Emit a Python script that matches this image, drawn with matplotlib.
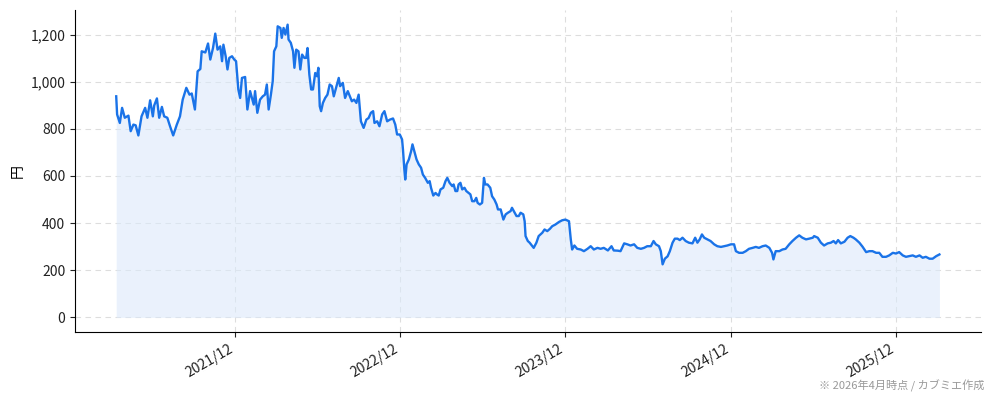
import matplotlib
matplotlib.use("Agg")
import matplotlib.pyplot as plt
import matplotlib.dates as mdates
import matplotlib.ticker as mticker
import pandas as pd

plt.rcParams['font.family'] = ['Noto Sans CJK JP', 'DejaVu Sans']

dates = [
    "2021-03-13", "2021-03-15", "2021-03-21", "2021-03-26", "2021-04-01", "2021-04-09", "2021-04-14", "2021-04-20",
    "2021-04-25", "2021-05-01", "2021-05-08", "2021-05-16", "2021-05-21", "2021-05-27", "2021-06-02", "2021-06-05",
    "2021-06-11", "2021-06-16", "2021-06-22", "2021-06-27", "2021-07-04", "2021-07-10", "2021-07-17", "2021-07-25",
    "2021-08-01", "2021-08-07", "2021-08-15", "2021-08-22", "2021-08-27", "2021-09-03", "2021-09-09", "2021-09-15",
    "2021-09-18", "2021-09-26", "2021-10-02", "2021-10-07", "2021-10-13", "2021-10-18", "2021-10-23", "2021-10-29",
    "2021-11-02", "2021-11-05", "2021-11-10", "2021-11-14", "2021-11-18", "2021-11-24", "2021-11-29", "2021-12-03",
    "2021-12-08", "2021-12-12", "2021-12-16", "2021-12-23", "2021-12-28", "2022-01-03",
    "2022-01-11", "2022-01-14", "2022-01-19", "2022-01-25", "2022-01-31", "2022-02-05", "2022-02-09", "2022-02-13",
    "2022-02-18", "2022-02-22", "2022-02-25", "2022-03-02", "2022-03-05", "2022-03-11", "2022-03-14", "2022-03-18",
    "2022-03-22", "2022-03-27", "2022-03-29", "2022-04-03", "2022-04-08", "2022-04-11", "2022-04-15", "2022-04-20",
    "2022-04-24", "2022-04-28", "2022-05-03", "2022-05-07", "2022-05-10", "2022-05-14", "2022-05-18", "2022-05-22",
    "2022-05-27", "2022-05-31", "2022-06-03", "2022-06-06", "2022-06-09", "2022-06-13", "2022-06-18", "2022-06-23",
    "2022-06-28", "2022-07-03", "2022-07-07", "2022-07-13", "2022-07-18", "2022-07-21", "2022-07-27", "2022-08-01",
    "2022-08-07", "2022-08-13", "2022-08-16", "2022-08-21", "2022-08-26", "2022-08-31", "2022-09-05", "2022-09-11",
    "2022-09-17", "2022-09-22", "2022-09-27", "2022-10-02", "2022-10-05", "2022-10-11", "2022-10-16", "2022-10-22",
    "2022-10-27", "2022-11-02", "2022-11-08",
    "2022-11-15", "2022-11-20", "2022-11-24", "2022-11-30", "2022-12-05", "2022-12-07", "2022-12-10", "2022-12-12",
    "2022-12-15", "2022-12-20", "2022-12-25", "2022-12-28", "2023-01-01", "2023-01-06", "2023-01-11", "2023-01-16",
    "2023-01-20", "2023-01-25", "2023-01-31", "2023-02-04", "2023-02-07", "2023-02-12", "2023-02-17", "2023-02-20",
    "2023-02-24", "2023-02-28", "2023-03-06", "2023-03-11", "2023-03-15", "2023-03-20", "2023-03-26", "2023-03-29",
    "2023-04-02", "2023-04-06", "2023-04-09", "2023-04-13", "2023-04-17", "2023-04-22", "2023-04-26", "2023-05-01",
    "2023-05-05", "2023-05-09", "2023-05-14", "2023-05-18", "2023-05-21", "2023-05-26", "2023-05-31", "2023-06-04",
    "2023-06-07", "2023-06-12", "2023-06-18", "2023-06-22", "2023-06-27", "2023-07-02", "2023-07-05", "2023-07-11",
    "2023-07-17", "2023-07-22", "2023-07-27", "2023-08-02", "2023-08-05", "2023-08-09", "2023-08-15", "2023-08-20",
    "2023-08-24", "2023-08-30", "2023-09-02", "2023-09-04", "2023-09-09", "2023-09-13", "2023-09-19", "2023-09-22",
    "2023-09-28", "2023-10-03",
    "2023-10-11", "2023-10-16", "2023-10-22", "2023-10-28", "2023-11-02", "2023-11-09", "2023-11-17", "2023-11-24",
    "2023-12-01", "2023-12-09", "2023-12-13", "2023-12-16", "2023-12-21", "2023-12-27", "2024-01-04", "2024-01-11",
    "2024-01-19", "2024-01-26", "2024-02-02", "2024-02-10", "2024-02-17", "2024-02-24", "2024-03-04", "2024-03-12",
    "2024-03-17", "2024-03-26", "2024-04-01", "2024-04-09", "2024-04-16", "2024-04-23", "2024-05-01", "2024-05-08",
    "2024-05-16", "2024-05-23", "2024-05-30", "2024-06-07", "2024-06-13", "2024-06-18", "2024-06-25", "2024-06-29",
    "2024-07-03", "2024-07-08", "2024-07-14", "2024-07-19", "2024-07-25", "2024-07-30", "2024-08-05", "2024-08-10",
    "2024-08-16", "2024-08-23", "2024-08-30", "2024-09-07", "2024-09-13", "2024-09-18", "2024-09-23", "2024-09-28",
    "2024-10-03", "2024-10-10", "2024-10-17", "2024-10-25", "2024-11-01", "2024-11-09", "2024-11-16", "2024-11-23",
    "2024-12-01", "2024-12-08", "2024-12-12", "2024-12-19", "2024-12-27", "2025-01-03", "2025-01-10", "2025-01-18",
    "2025-01-25", "2025-02-01", "2025-02-09", "2025-02-16", "2025-02-24", "2025-03-02", "2025-03-05", "2025-03-10",
    "2025-03-18", "2025-03-25", "2025-04-01", "2025-04-09", "2025-04-16", "2025-04-24", "2025-05-01", "2025-05-08",
    "2025-05-16", "2025-05-23", "2025-05-31",
    "2025-06-03", "2025-06-11", "2025-06-18", "2025-06-25", "2025-07-03", "2025-07-10", "2025-07-16", "2025-07-21",
    "2025-07-26", "2025-08-01", "2025-08-09", "2025-08-16", "2025-08-22", "2025-08-29", "2025-09-03", "2025-09-11",
    "2025-09-18", "2025-09-26", "2025-10-03", "2025-10-10", "2025-10-18", "2025-10-25", "2025-11-01", "2025-11-09",
    "2025-11-16", "2025-11-24", "2025-12-01", "2025-12-08", "2025-12-16", "2025-12-23", "2025-12-30", "2026-01-07",
    "2026-01-14", "2026-01-22", "2026-01-29", "2026-02-05", "2026-02-13", "2026-02-20", "2026-02-28", "2026-03-07",
]

prices = [
    938, 861, 825, 889, 847, 856, 790, 818,
    815, 772, 853, 889, 847, 921, 853, 899,
    929, 847, 893, 853, 847, 811, 772, 818,
    853, 924, 974, 945, 950, 882, 1044, 1054,
    1129, 1124, 1162, 1094, 1143, 1204, 1136, 1150,
    1087, 1157, 1108, 1052, 1101, 1108, 1094, 1087,
    967, 931, 1016, 1020, 882, 960,
    903, 960, 868, 924, 938, 945, 988, 882,
    945, 1002, 1129, 1150, 1235, 1228, 1186, 1228,
    1200, 1242, 1179, 1165, 1129, 1059, 1136, 1129,
    1052, 1115, 1101, 1101, 1143, 1030, 967, 967,
    1037, 1023, 1059, 896, 875, 910, 931, 945,
    988, 981, 938, 981, 1016, 981, 995, 931,
    960, 931, 917, 924, 910, 945, 832, 804,
    839, 846, 868, 875, 825, 832, 811, 861,
    875, 832, 839,
    844, 818, 776, 776, 755, 712, 628, 585,
    649, 670, 705, 734, 705, 670, 649, 635,
    606, 592, 571, 578, 550, 517, 528, 522,
    517, 543, 550, 578, 592, 571, 557, 564,
    536, 536, 564, 571, 543, 550, 536, 528,
    522, 493, 493, 507, 486, 479, 486, 592,
    564, 564, 550, 514, 500, 479, 458, 458,
    415, 437, 444, 451, 465, 451, 430, 430,
    444, 437, 408, 345, 324, 317, 302, 295,
    317, 345,
    359, 373, 366, 376, 387, 394, 405, 412,
    415, 408, 331, 288, 305, 291, 288, 281,
    291, 302, 288, 295, 291, 295, 284, 302,
    284, 283, 281, 314, 310, 305, 310, 295,
    291, 295, 302, 302, 324, 310, 302, 281,
    225, 249, 259, 281, 317, 334, 334, 328,
    338, 324, 317, 314, 338, 317, 331, 352,
    338, 331, 324, 310, 302, 299, 302, 305,
    310, 310, 281, 274, 274, 281, 291, 295,
    299, 295, 302, 305, 295, 274, 246, 281,
    281, 288, 291, 310, 324, 338, 348, 338,
    331, 334, 338,
    345, 338, 317, 305, 314, 317, 324, 314,
    328, 314, 321, 338, 345, 338, 331, 317,
    300, 277, 281, 281, 274, 274, 257, 257,
    263, 274, 271, 277, 263, 257, 260, 263,
    257, 263, 253, 257, 249, 249, 260, 267,
]

tick_format = "%Y/%m"
y_label = "円"
footnote = "※ 2026年4月時点 / カブミエ作成"

x = pd.to_datetime(dates)

fig = plt.figure(figsize=(9.94, 4.01), dpi=100)
ax = fig.add_axes([0.0755, 0.172, 0.911, 0.803])

line_color = "#1a73e8"
ax.fill_between(x, 0, prices, color="#dce9fb", alpha=0.6, linewidth=0)
ax.plot(x, prices, color=line_color, linewidth=1.7)

ax.xaxis.set_major_locator(mdates.MonthLocator(bymonth=12))
ax.xaxis.set_major_formatter(mdates.DateFormatter(tick_format))
ax.yaxis.set_major_locator(mticker.MultipleLocator(200))
ax.yaxis.set_major_formatter(mticker.FuncFormatter(lambda v, p: f"{int(v):,}"))

for lbl in ax.get_xticklabels():
    lbl.set_rotation(30)
    lbl.set_ha("right")

ax.tick_params(axis="both", labelsize=10, colors="#222222")
ax.grid(True, linestyle=(0, (5, 4)), color="#dddddd", linewidth=0.8)
ax.set_axisbelow(True)
for s in ("top", "right"):
    ax.spines[s].set_visible(False)
ax.set_ylabel(y_label, fontsize=10)

fig.text(0.990, 0.022, footnote, ha="right", va="bottom", fontsize=8, color="#999999")

fig.savefig("out.png", dpi=100)
